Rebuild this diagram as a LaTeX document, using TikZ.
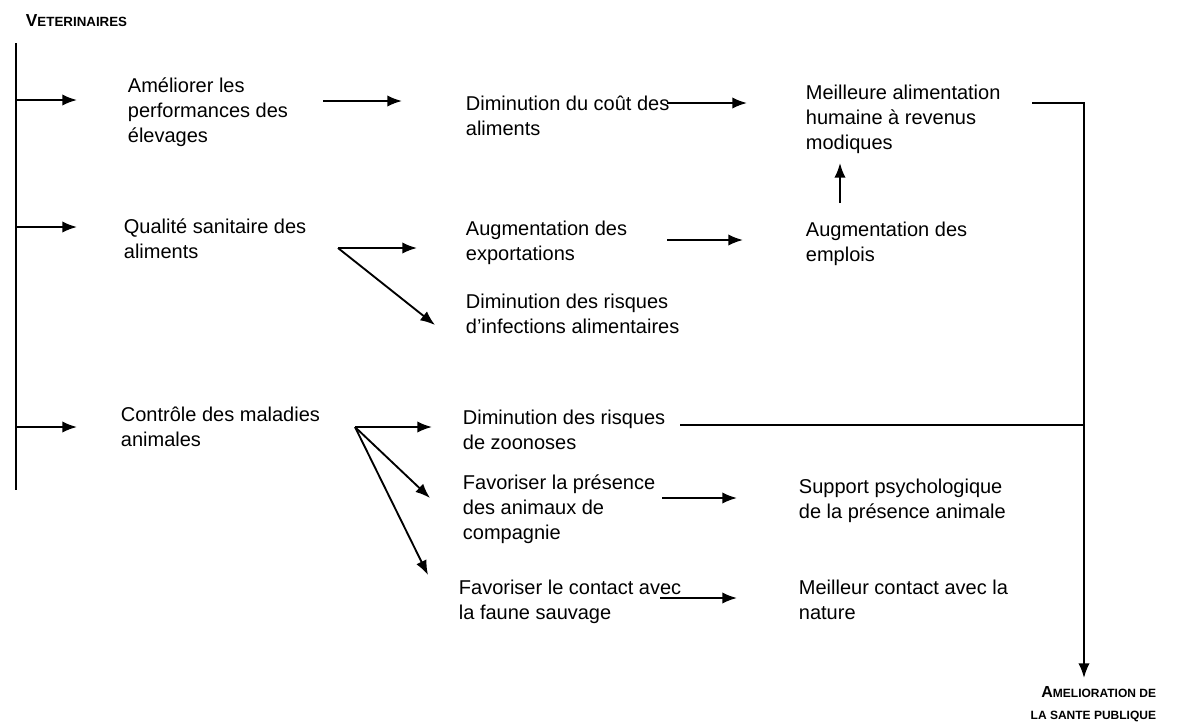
\documentclass[tikz,border=0pt]{standalone}
\usepackage{fontspec}
\setmainfont{Liberation Sans}
\usepackage{tikz}
\usetikzlibrary{arrows.meta}
\usetikzlibrary{calc}
\tikzset{fleche/.style = {-{Latex[length=11pt, width=8.5pt]}}}
\tikzset{texte/.style = {anchor=base west, inner sep=0pt,
                         font=\fontsize{15}{19.1}\selectfont}}
\tikzset{titre/.style = {inner sep=0pt, font=\bfseries}}
% lignes empilees, ligne de base = premiere ligne
\newcommand{\bloc}[1]{\begin{tabular}[t]{@{}l@{}}#1\end{tabular}}
\newcommand{\blocd}[1]{\begin{tabular}[t]{@{}r@{}}#1\end{tabular}}

\begin{document}
\begin{tikzpicture}[x=0.75pt, y=-0.75pt, line width=1.4pt]
    \useasboundingbox (0,0) rectangle (1178,726);

    \node [titre, anchor=base west] (veto) at (25,26)
        {{\fontsize{13}{15}\selectfont V}{\fontsize{10}{15}\selectfont ETERINAIRES}};
    \node [titre, anchor=base east, font=\bfseries\fontsize{9}{16.5}\selectfont] (sante) at (1157,697)
        {\blocd{{\fontsize{12}{15}\selectfont A}MELIORATION DE\\LA SANTE PUBLIQUE}};

    \node [texte] (ameliorer) at (127,92) {\bloc{Améliorer les\\performances des\\élevages}};
    \node [texte] (qualite) at (123,233) {\bloc{Qualité sanitaire des\\aliments}};
    \node [texte] (controle) at (120,421) {\bloc{Contrôle des maladies\\animales}};

    \node [texte] (cout) at (465,110) {\bloc{Diminution du coût des\\aliments}};
    \node [texte] (export) at (465,235) {\bloc{Augmentation des\\exportations}};
    \node [texte] (infect) at (465,308) {\bloc{Diminution des risques\\d'infections alimentaires}};
    \node [texte] (zoono) at (462,424) {\bloc{Diminution des risques\\de zoonoses}};
    \node [texte] (presence) at (462,489) {\bloc{Favoriser la présence\\des animaux de\\compagnie}};
    \node [texte] (contact) at (458,594) {\bloc{Favoriser le contact avec\\la faune sauvage}};

    \node [texte] (alim) at (805,99) {\bloc{Meilleure alimentation\\humaine à revenus\\modiques}};
    \node [texte] (emplois) at (805,236) {\bloc{Augmentation des\\emplois}};
    \node [texte] (psycho) at (798,493) {\bloc{Support psychologique\\de la présence animale}};
    \node [texte] (nature) at (798,594) {\bloc{Meilleur contact avec la\\nature}};

    % tronc des veterinaires
    \draw ([shift={(-9,17)}]veto.base west) -- ([shift={(-9,464)}]veto.base west);
    \draw [fleche] ([shift={(-111,8)}]ameliorer.base west) -- ([shift={(-50,8)}]ameliorer.base west);
    \draw [fleche] ([shift={(-107,-6)}]qualite.base west) -- ([shift={(-46,-6)}]qualite.base west);
    \draw [fleche] ([shift={(-104,6)}]controle.base west) -- ([shift={(-43,6)}]controle.base west);

    \draw [fleche] ([shift={(196,9)}]ameliorer.base west) -- ([shift={(-63,-9)}]cout.base west);
    \draw [fleche] ([shift={(202,-7)}]cout.base west) -- ([shift={(-58,4)}]alim.base west);
    \draw [fleche] ([shift={(35,-33)}]emplois.base west) -- ([shift={(35,64)}]alim.base west);

    \coordinate (f1) at ([shift={(215,15)}]qualite.base west);
    \draw [fleche] (f1) -- ([shift={(-48,13)}]export.base west);
    \draw [fleche] (f1) -- ([shift={(-30,17)}]infect.base west);
    \draw [fleche] ([shift={(202,5)}]export.base west) -- ([shift={(-62,4)}]emplois.base west);

    \coordinate (f2) at ([shift={(235,6)}]controle.base west);
    \draw [fleche] (f2) -- ([shift={(-30,3)}]zoono.base west);
    \draw [fleche] (f2) -- ([shift={(-32,9)}]presence.base west);
    \draw [fleche] (f2) -- ([shift={(-30,-19)}]contact.base west);
    \draw [fleche] ([shift={(200,9)}]presence.base west) -- ([shift={(-61,5)}]psycho.base west);
    \draw [fleche] ([shift={(202,4)}]contact.base west) -- ([shift={(-61,4)}]nature.base west);

    % vers la sante publique
    \coordinate (coin) at ([shift={(-73,-19)}]sante.base east);
    \draw [fleche] ([shift={(227,4)}]alim.base west) -| (coin);
    \coordinate (zdep) at ([shift={(218,1)}]zoono.base west);
    \draw (zdep) -- (zdep -| coin);
\end{tikzpicture}
\end{document}
